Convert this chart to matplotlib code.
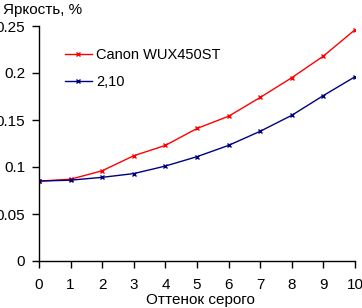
import matplotlib
matplotlib.use("Agg")
import matplotlib.pyplot as plt

plt.rcParams['font.family'] = ['Liberation Sans', 'DejaVu Sans']

shades = [0, 1, 2, 3, 4, 5, 6, 7, 8, 9, 10]
canon = [0.085, 0.087, 0.096, 0.112, 0.123, 0.141, 0.154, 0.174, 0.195, 0.218, 0.246]
ref_210 = [0.085, 0.086, 0.089, 0.093, 0.101, 0.111, 0.123, 0.138, 0.155, 0.176, 0.196]
yticks = [0, 0.05, 0.1, 0.15, 0.2, 0.25]
ytick_labels = ['0', '0.05', '0.1', '0.15', '0.2', '0.25']

fig = plt.figure(figsize=(3.62, 3.08), dpi=100)
ax = fig.add_axes([39 / 362, 47 / 308, 316 / 362, 235 / 308])

ax.plot(shades, canon, color='#ff0000', marker='x', markersize=3.5, linewidth=1,
        label='Canon WUX450ST')
ax.plot(shades, ref_210, color='#000080', marker='x', markersize=3.5, linewidth=1,
        label='2,10')

ax.set_xlim(0, 10)
ax.set_ylim(0, 0.25)
ax.set_xticks(shades)
ax.set_yticks(yticks)
ax.set_yticklabels(ytick_labels)
for s in ['top', 'right']:
    ax.spines[s].set_visible(False)
for s in ['left', 'bottom']:
    ax.spines[s].set_linewidth(1)
    ax.spines[s].set_clip_on(False)
ax.tick_params(direction='out', length=5, width=1, labelsize=11)
ax.tick_params(axis='x', pad=7)
ax.tick_params(axis='y', pad=5)

fig.text(3 / 362, 1 - 3 / 308, 'Яркость, %', fontsize=11, va='top', ha='left')
fig.text(200 / 362, 1 / 308, 'Оттенок серого', fontsize=11,
         va='bottom', ha='center')

ax.legend(loc='upper left', bbox_to_anchor=(0.065, 0.93), frameon=False,
          fontsize=10.5, handlelength=1.8, handletextpad=0.3,
          labelspacing=0.9, borderaxespad=0)

fig.savefig('out.png', dpi=100)
